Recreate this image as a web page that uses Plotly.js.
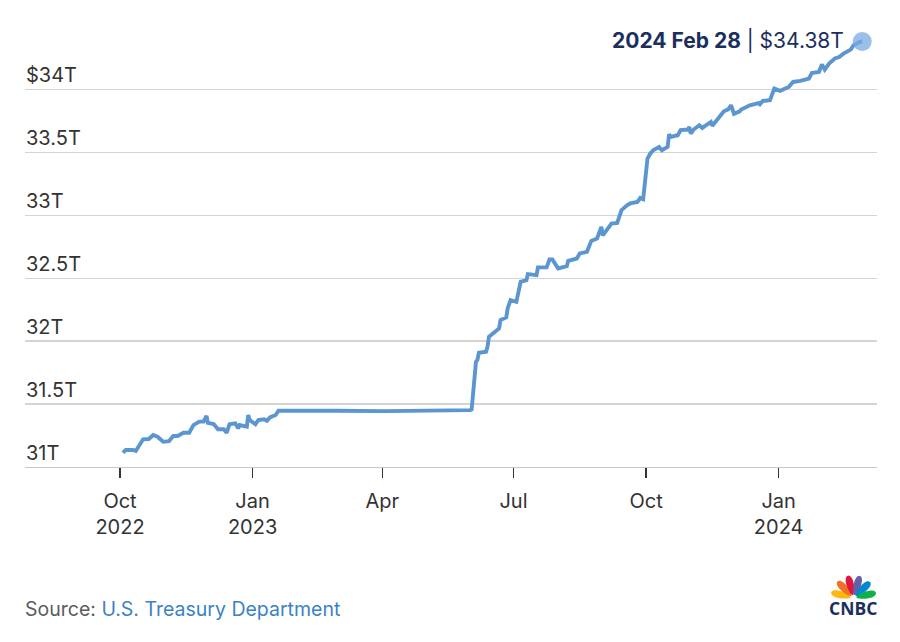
<!DOCTYPE html>
<html>
<head>
<meta charset="utf-8">
<script src="https://cdn.plot.ly/plotly-3.0.1.min.js"></script>
<style>
  html, body { margin: 0; padding: 0; background: #fff; }
  #chart { width: 900px; height: 642px; }
</style>
</head>
<body>
<div id="chart"></div>
<script>
// ---- Data (U.S. national debt, trillions of dollars) ----
const dates = [
  "2022-10-03","2022-10-05","2022-10-10","2022-10-12","2022-10-17","2022-10-21","2022-10-24","2022-10-27","2022-10-31",
  "2022-11-04","2022-11-07","2022-11-10","2022-11-14","2022-11-18","2022-11-21","2022-11-25","2022-11-28","2022-11-30",
  "2022-12-01","2022-12-05","2022-12-08","2022-12-12","2022-12-14","2022-12-16","2022-12-20","2022-12-22","2022-12-23",
  "2022-12-28","2022-12-29","2022-12-30","2023-01-03","2023-01-05","2023-01-09","2023-01-11","2023-01-13","2023-01-17",
  "2023-01-19","2023-02-03","2023-02-27","2023-04-03","2023-05-05","2023-05-17","2023-06-01","2023-06-02",
  "2023-06-05","2023-06-06","2023-06-07","2023-06-12","2023-06-13","2023-06-14","2023-06-20","2023-06-21","2023-06-22",
  "2023-06-26","2023-06-27","2023-06-29","2023-07-03","2023-07-06","2023-07-10","2023-07-11","2023-07-17","2023-07-18",
  "2023-07-24","2023-07-26","2023-07-28","2023-08-01","2023-08-07","2023-08-08","2023-08-14","2023-08-16","2023-08-21",
  "2023-08-24","2023-08-28","2023-08-31","2023-09-01","2023-09-07","2023-09-11","2023-09-13","2023-09-14","2023-09-18",
  "2023-09-20","2023-09-25","2023-09-27","2023-09-29",
  "2023-10-02","2023-10-04","2023-10-06","2023-10-10","2023-10-12","2023-10-16","2023-10-17","2023-10-18","2023-10-23",
  "2023-10-25","2023-10-30","2023-10-31","2023-11-01","2023-11-03","2023-11-07","2023-11-09","2023-11-13","2023-11-15",
  "2023-11-16","2023-11-20","2023-11-22","2023-11-24","2023-11-27","2023-11-29","2023-12-01","2023-12-05","2023-12-06",
  "2023-12-12","2023-12-18","2023-12-19","2023-12-21","2023-12-26","2023-12-29",
  "2024-01-02","2024-01-08","2024-01-11","2024-01-16","2024-01-22","2024-01-24","2024-01-29","2024-01-31",
  "2024-02-02","2024-02-05","2024-02-09","2024-02-12","2024-02-15","2024-02-20","2024-02-22","2024-02-26","2024-02-28"
];
const debt = [
  31.114,31.135,31.135,31.127,31.220,31.222,31.254,31.240,31.200,
  31.206,31.246,31.246,31.272,31.272,31.333,31.360,31.360,31.405,
  31.350,31.341,31.300,31.300,31.272,31.339,31.347,31.307,31.333,
  31.320,31.413,31.373,31.339,31.373,31.379,31.367,31.394,31.413,
  31.447,31.444,31.447,31.444,31.447,31.450,31.452,31.458,
  31.836,31.850,31.907,31.915,31.955,32.034,32.087,32.100,32.167,
  32.188,32.260,32.325,32.312,32.470,32.484,32.532,32.524,32.585,
  32.585,32.648,32.648,32.577,32.595,32.637,32.656,32.696,32.709,
  32.796,32.815,32.907,32.840,32.934,32.939,33.026,33.040,33.080,
  33.093,33.105,33.137,33.127,
  33.450,33.490,33.516,33.542,33.516,33.542,33.643,33.621,33.635,
  33.675,33.680,33.700,33.648,33.680,33.714,33.693,33.720,33.740,
  33.710,33.767,33.790,33.825,33.840,33.873,33.805,33.825,33.839,
  33.873,33.890,33.881,33.907,33.913,34.005,
  33.987,34.018,34.058,34.066,34.085,34.129,34.137,34.198,
  34.156,34.204,34.244,34.256,34.283,34.315,34.350,34.375,34.380
];
const yTickVals = [31, 31.5, 32, 32.5, 33, 33.5, 34];
const yTickText = ["31T", "31.5T", "32T", "32.5T", "33T", "33.5T", "$34T"];
const xTickVals = ["2022-10-01","2023-01-01","2023-04-01","2023-07-01","2023-10-01","2024-01-01"];
const xTickText = ["Oct<br>2022","Jan<br>2023","Apr","Jul","Oct","Jan<br>2024"];
const sourceLabel = "Source:";
const sourceName = "U.S. Treasury Department";
const monthNames = ["Jan","Feb","Mar","Apr","May","Jun","Jul","Aug","Sep","Oct","Nov","Dec"];

// ---- Layout geometry ----
const W = 900, H = 642;
const M = {l: 25, r: 23, t: 20, b: 175};
const plotW = W - M.l - M.r, plotH = H - M.t - M.b;
const FONT = "Inter, 'Open Sans', sans-serif";
const lineColor = "#5b96d0";
const navy = "#1b2f5e";

const lastDate = dates[dates.length - 1];
const lastVal = debt[debt.length - 1];
const ld = lastDate.split("-");
const lastLabel = "<b>" + ld[0] + " " + monthNames[parseInt(ld[1], 10) - 1] + " " + parseInt(ld[2], 10) +
                  "</b> | $" + lastVal.toFixed(2) + "T";

// pixel -> paper helpers for the logo
const px = x => (x - M.l) / plotW;
const py = y => (H - M.b - y) / plotH;

function petal(cx, cy, angDeg, r0, r1, hw, color) {
  const a = angDeg * Math.PI / 180;
  const dx = Math.cos(a), dy = -Math.sin(a);     // screen coords (y down)
  const nx = -dy, ny = dx;
  const pts = [];
  const N = 24;
  for (let i = 0; i <= N; i++) {
    const t = Math.PI * i / N;
    const along = r0 + (r1 - r0) * (1 - Math.cos(t)) / 2;
    const w = hw * Math.sin(t) * (0.55 + 0.45 * (1 - Math.cos(t)) / 2);
    pts.push([cx + dx * along + nx * w, cy + dy * along + ny * w]);
  }
  for (let i = N; i >= 0; i--) {
    const t = Math.PI * i / N;
    const along = r0 + (r1 - r0) * (1 - Math.cos(t)) / 2;
    const w = hw * Math.sin(t) * (0.55 + 0.45 * (1 - Math.cos(t)) / 2);
    pts.push([cx + dx * along - nx * w, cy + dy * along - ny * w]);
  }
  const d = "M" + pts.map(p => px(p[0]).toFixed(5) + "," + py(p[1]).toFixed(5)).join(" L") + " Z";
  return {type: "path", xref: "paper", yref: "paper", path: d,
          fillcolor: color, line: {width: 0}, layer: "above"};
}

const logoC = [853.5, 598];
const feathers = [
  [166, "#fcb711"], [134, "#f37021"], [104, "#e0163e"],
  [74, "#6460aa"], [44, "#0089d0"], [13, "#0db14b"]
];
const shapes = feathers.map(f => petal(logoC[0], logoC[1], f[0], 3, 23, 4.6, f[1]));

const traces = [
  {
    x: dates, y: debt, type: "scatter", mode: "lines",
    line: {color: lineColor, width: 3.9, shape: "linear"},
    hoverinfo: "skip", showlegend: false
  },
  {
    x: [lastDate], y: [lastVal], type: "scatter", mode: "markers",
    marker: {size: 19, color: "rgba(120,170,225,0.75)", line: {width: 0}},
    hoverinfo: "skip", showlegend: false
  }
];

const layout = {
  width: W, height: H,
  margin: M,
  paper_bgcolor: "#fff", plot_bgcolor: "#fff",
  font: {family: FONT, size: 20, color: "#333"},
  showlegend: false,
  xaxis: {
    type: "date",
    range: ["2022-07-27 02:00", "2024-03-09 06:00"],
    tickvals: xTickVals, ticktext: xTickText,
    ticks: "outside", ticklen: 10, tickwidth: 1.3, tickcolor: "#333",
    showgrid: false, zeroline: false,
    showline: true, linecolor: "#c8c8c8", linewidth: 1.2,
    tickfont: {family: FONT, size: 20, color: "#333"},
    ticklabelstandoff: 6,
    fixedrange: true
  },
  yaxis: {
    range: [31, 34.55],
    tickvals: yTickVals, ticktext: yTickText,
    showgrid: true, gridcolor: "#d4d4d4", gridwidth: 1.2,
    zeroline: false, showline: false, ticks: "",
    ticklabelposition: "inside",
    ticklabelshift: -14, ticklabelstandoff: -2,
    tickfont: {family: FONT, size: 20, color: "#333"},
    fixedrange: true
  },
  shapes: shapes,
  annotations: [
    {
      x: lastDate, y: lastVal, xref: "x", yref: "y",
      text: lastLabel, showarrow: false,
      xanchor: "right", yanchor: "middle", xshift: -16, yshift: 1,
      font: {family: FONT, size: 21, color: navy}
    },
    {
      x: 0, y: py(609), xref: "paper", yref: "paper",
      text: "<span style='color:#5c5c5c'>" + sourceLabel + "</span> <span style='color:#3b82c4'>" + sourceName + "</span>",
      showarrow: false, xanchor: "left", yanchor: "middle", xshift: -2,
      font: {family: FONT, size: 19.5, color: "#5c5c5c"}
    },
    {
      x: px(853), y: py(608), xref: "paper", yref: "paper",
      text: "<b>CNBC</b>", showarrow: false, xanchor: "center", yanchor: "middle",
      font: {family: "'Open Sans', sans-serif", size: 17.5, color: navy}
    }
  ]
};

Plotly.newPlot("chart", traces, layout, {displayModeBar: false, staticPlot: true});
</script>
</body>
</html>
